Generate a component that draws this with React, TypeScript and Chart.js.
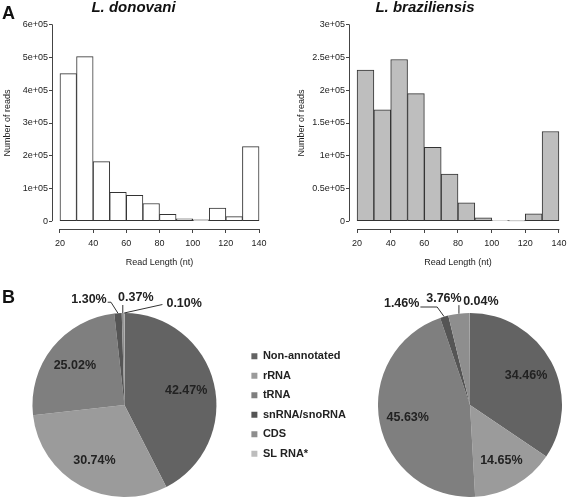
import React, { useEffect, useRef } from 'react';
import { Chart, registerables } from 'chart.js';

Chart.register(...registerables);

const FONT = "'Liberation Sans', Arial, Helvetica, sans-serif";
Chart.defaults.font.family = FONT;

// ---------- Panel A: read-length histograms ----------
const binStarts = [20, 30, 40, 50, 60, 70, 80, 90, 100, 110, 120, 130];
const binWidth = 10;
const donovaniReads = [451000, 503000, 182000, 88000, 79000, 54000, 21000, 7000, 4000, 40000, 14000, 228000];
const braziliensisReads = [231000, 170000, 247000, 195000, 113000, 72000, 28000, 5000, 600, 400, 11000, 137000];
const xTicks = [20, 40, 60, 80, 100, 120, 140];
const donovaniYTicks = [0, 100000, 200000, 300000, 400000, 500000, 600000];
const donovaniYLabels = ['0', '1e+05', '2e+05', '3e+05', '4e+05', '5e+05', '6e+05'];
const braziliensisYTicks = [0, 50000, 100000, 150000, 200000, 250000, 300000];
const braziliensisYLabels = ['0', '0.5e+05', '1e+05', '1.5e+05', '2e+05', '2.5e+05', '3e+05'];

// ---------- Panel B: annotation pies ----------
const rnaCategories = ['Non-annotated', 'rRNA', 'tRNA', 'snRNA/snoRNA', 'CDS', 'SL RNA*'];
const donovaniPct = [42.47, 30.74, 25.02, 1.3, 0.37, 0.1];
const braziliensisPct = [34.46, 14.65, 45.63, 1.46, 3.76, 0.04];
const rnaColors = ['#636363', '#9b9b9b', '#7f7f7f', '#555555', '#8e8e8e', '#bdbdbd'];

type Callout = null | { dx: number; dy: number; leader: 'elbow' | 'vertical' | 'direct' | 'none' };
// label placement (offset from slice edge) for the thin slices
const donovaniCallouts: Callout[] = [null, null, null,
  { dx: -29, dy: -14, leader: 'elbow' },
  { dx: 13, dy: -15, leader: 'vertical' },
  { dx: 60, dy: -9.5, leader: 'direct' }];
const braziliensisCallouts: Callout[] = [null, null, null,
  { dx: -42.5, dy: -12.7, leader: 'elbow' },
  { dx: -15, dy: -15.5, leader: 'vertical' },
  { dx: 11, dy: -11.5, leader: 'none' }];

const AXIS = '#444';
const TEXT = '#222';

const alignPx = (p: number) => Math.round(p - 0.5) + 0.5;

const rAxesPlugin = {
  id: 'rAxes',
  afterDraw(chart: any) {
    const { ctx, chartArea } = chart;
    const xs = chart.scales.x;
    const ys = chart.scales.y;
    const xt = xs.ticks.map((t: any) => t.value);
    const yt = ys.ticks.map((t: any) => t.value);
    ctx.save();
    ctx.strokeStyle = AXIS;
    ctx.lineWidth = 1;
    ctx.beginPath();
    const yb = alignPx(chartArea.bottom);
    ctx.moveTo(xs.getPixelForValue(xt[0]), yb);
    ctx.lineTo(xs.getPixelForValue(xt[xt.length - 1]) + 0.5, yb);
    const xl = alignPx(chartArea.left);
    ctx.moveTo(xl, ys.getPixelForValue(yt[0]));
    ctx.lineTo(xl, ys.getPixelForValue(yt[yt.length - 1]) - 0.5);
    ctx.stroke();
    ctx.restore();
  },
};

type HistProps = {
  left: number; width: number; title: string; values: number[];
  yTicks: number[]; yLabels: string[]; fill: string;
  yAxisWidth: number; padRight: number; yTitlePad: number;
};

function Histogram(p: HistProps) {
  const ref = useRef<HTMLCanvasElement>(null);
  useEffect(() => {
    const xr = xTicks[xTicks.length - 1] - xTicks[0];
    const yTop = p.yTicks[p.yTicks.length - 1];
    const chart = new Chart(ref.current as HTMLCanvasElement, {
      type: 'bar',
      data: {
        datasets: [{
          data: binStarts.map((s, i) => ({ x: s + binWidth / 2, y: p.values[i] })),
          backgroundColor: p.fill,
          borderColor: '#333',
          borderWidth: 1,
          borderSkipped: false,
          barPercentage: 1,
          categoryPercentage: 1,
        } as any],
      },
      options: {
        animation: false,
        responsive: false,
        events: [],
        layout: { padding: { left: 0, right: p.padRight, top: 0, bottom: 0 } },
        plugins: {
          legend: { display: false },
          tooltip: { enabled: false },
          title: {
            display: true, text: p.title, color: '#111',
            font: { family: FONT, size: 15, weight: 'bold', style: 'italic', lineHeight: 1 },
            padding: { top: 0, bottom: 2 },
          },
        },
        scales: {
          x: {
            type: 'linear',
            min: xTicks[0] - 0.04 * xr,
            max: xTicks[xTicks.length - 1] + 0.04 * xr,
            offset: false,
            afterBuildTicks: (s: any) => { s.ticks = xTicks.map((v) => ({ value: v })); },
            afterFit: (s: any) => { s.height = 39; },
            grid: { display: true, drawOnChartArea: false, drawTicks: true, tickLength: 4, color: AXIS, offset: false },
            border: { display: false },
            ticks: { font: { family: FONT, size: 9 }, color: TEXT, padding: 5, autoSkip: false, maxRotation: 0 },
            title: { display: true, text: 'Read Length (nt)', font: { family: FONT, size: 9 }, color: TEXT, padding: 0 },
          } as any,
          y: {
            type: 'linear',
            min: -0.04 * yTop,
            max: 1.04 * yTop,
            afterBuildTicks: (s: any) => { s.ticks = p.yTicks.map((v) => ({ value: v })); },
            afterFit: (s: any) => { s.width = p.yAxisWidth; },
            grid: { display: true, drawOnChartArea: false, drawTicks: true, tickLength: 3, color: AXIS },
            border: { display: false },
            ticks: {
              font: { family: FONT, size: 9 }, color: TEXT, padding: 1, autoSkip: false,
              callback: (_v: any, i: number) => p.yLabels[i],
            },
            title: { display: true, text: 'Number of reads', font: { family: FONT, size: 9 }, color: TEXT, padding: { top: p.yTitlePad, bottom: 0 } },
          } as any,
        },
      },
      plugins: [rAxesPlugin],
    });
    return () => chart.destroy();
  }, []);
  return (
    <canvas ref={ref} width={p.width} height={268}
      style={{ position: 'absolute', left: p.left, top: 0, width: p.width, height: 268 }} />
  );
}

const LEGEND_FONT = { family: FONT, size: 11, weight: 'bold' as const };
const LEGEND_BOX = 6;
const LEGEND_PAD = 8.5;

type PieProps = {
  left: number; pieArea: number; values: number[]; callouts: Callout[];
  legend: boolean;
};

function PieChart(p: PieProps) {
  const ref = useRef<HTMLCanvasElement>(null);
  useEffect(() => {
    const canvas = ref.current as HTMLCanvasElement;
    let width = p.pieArea;
    if (p.legend) {
      // width the legend box will ask for, so the pie keeps its place
      const m = document.createElement('canvas').getContext('2d') as CanvasRenderingContext2D;
      m.font = `bold ${LEGEND_FONT.size}px ${FONT}`;
      const tw = Math.max(...rnaCategories.map((t) => m.measureText(t).width));
      const legendW = LEGEND_PAD + LEGEND_BOX + LEGEND_FONT.size / 2 + tw + 10;
      width = p.pieArea + legendW;
    }
    canvas.width = width;
    canvas.style.width = width + 'px';

    const labelPlugin = {
      id: 'pieLabels',
      afterDatasetsDraw(chart: any) {
        const { ctx } = chart;
        const meta = chart.getDatasetMeta(0);
        ctx.save();
        ctx.font = `bold 12.5px ${FONT}`;
        ctx.fillStyle = TEXT;
        ctx.strokeStyle = '#333';
        ctx.lineWidth = 1;
        ctx.textAlign = 'center';
        ctx.textBaseline = 'middle';
        meta.data.forEach((arc: any, i: number) => {
          const { x, y, startAngle, endAngle, outerRadius } = arc.getProps(['x', 'y', 'startAngle', 'endAngle', 'outerRadius'], true);
          const mid = (startAngle + endAngle) / 2;
          const text = p.values[i].toFixed(2) + '%';
          const c = p.callouts[i];
          if (!c) {
            ctx.fillText(text, x + Math.cos(mid) * outerRadius * 0.69, y + Math.sin(mid) * outerRadius * 0.69);
            return;
          }
          const ax = x + Math.cos(mid) * outerRadius;
          const ay = y + Math.sin(mid) * outerRadius;
          const lx = ax + c.dx;
          const ly = ay + c.dy;
          ctx.fillText(text, lx, ly);
          const hw = ctx.measureText(text).width / 2;
          ctx.beginPath();
          if (c.leader === 'elbow') {
            ctx.moveTo(lx + hw + 1, ly + 3);
            ctx.lineTo(ax - 7, ly + 3);
            ctx.lineTo(ax, ay);
          } else if (c.leader === 'vertical') {
            ctx.moveTo(ax, ly + 7);
            ctx.lineTo(ax, ay);
          } else if (c.leader === 'direct') {
            ctx.moveTo(lx - hw - 4, ly + 1);
            ctx.lineTo(ax, ay);
          }
          ctx.stroke();
        });
        ctx.restore();
      },
    };
    const chart = new Chart(canvas, {
      type: 'pie',
      data: {
        labels: rnaCategories,
        datasets: [{ data: p.values, backgroundColor: rnaColors, borderWidth: 0 }],
      },
      options: {
        animation: false,
        responsive: false,
        events: [],
        layout: { padding: { left: 0, right: 0, top: 28, bottom: 0 } },
        plugins: {
          tooltip: { enabled: false },
          legend: {
            display: p.legend,
            position: 'right',
            labels: {
              boxWidth: LEGEND_BOX, boxHeight: LEGEND_BOX, padding: LEGEND_PAD, color: TEXT,
              font: LEGEND_FONT,
            },
          } as any,
        },
      },
      plugins: [labelPlugin],
    });
    return () => chart.destroy();
  }, []);
  return (
    <canvas ref={ref} width={p.pieArea} height={212}
      style={{ position: 'absolute', left: p.left, top: 285, width: p.pieArea, height: 212 }} />
  );
}

export default function App() {
  return (
    <div style={{ position: 'absolute', left: 0, top: 0, width: 567, height: 497, overflow: 'hidden', background: '#fff' }}>
      <Histogram left={0} width={316} title="L. donovani" values={donovaniReads}
        yTicks={donovaniYTicks} yLabels={donovaniYLabels} fill="#ffffff"
        yAxisWidth={52} padRight={49} yTitlePad={2.6} />
      <Histogram left={283} width={360} title="L. braziliensis" values={braziliensisReads}
        yTicks={braziliensisYTicks} yLabels={braziliensisYLabels} fill="#bebebe"
        yAxisWidth={66} padRight={76} yTitlePad={13.6} />
      <PieChart left={6} pieArea={237} values={donovaniPct} callouts={donovaniCallouts} legend={true} />
      <PieChart left={378} pieArea={184} values={braziliensisPct} callouts={braziliensisCallouts} legend={false} />
      <div style={{ position: 'absolute', left: 2, top: 4, font: `bold 18px ${FONT}`, lineHeight: '18px', color: '#111' }}>A</div>
      <div style={{ position: 'absolute', left: 2, top: 288, font: `bold 18px ${FONT}`, lineHeight: '18px', color: '#111' }}>B</div>
    </div>
  );
}
